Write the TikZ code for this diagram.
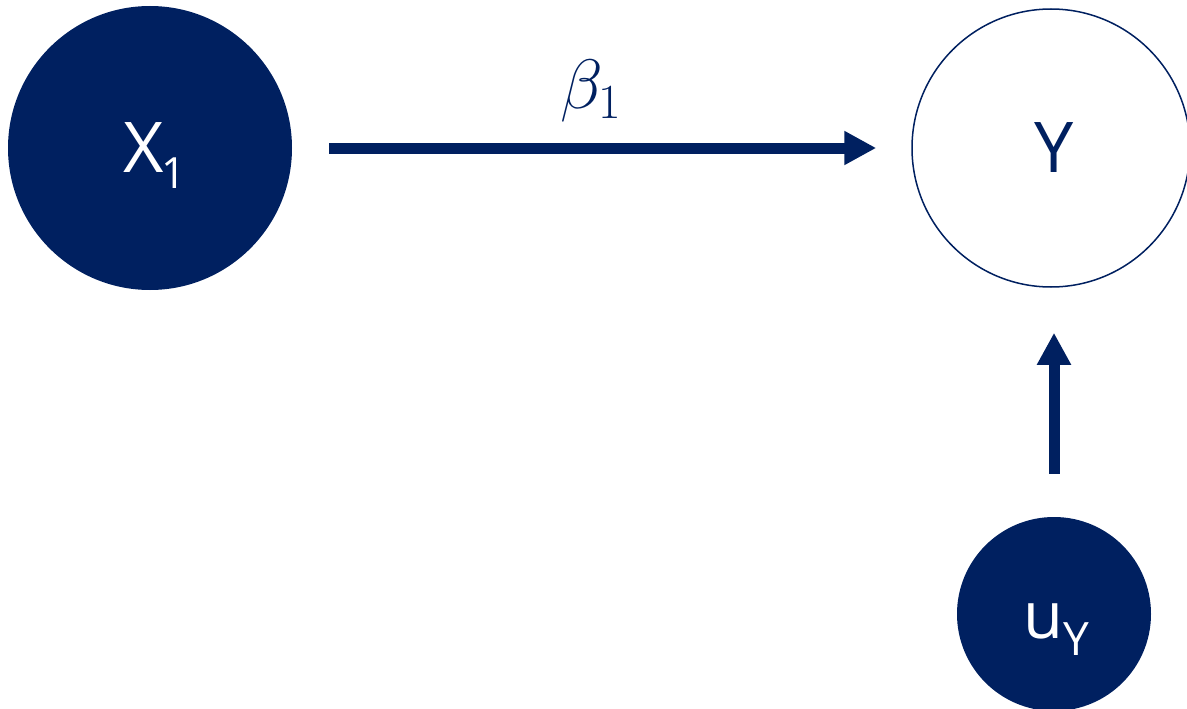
\RequirePackage{fix-cm}
\documentclass[tikz,border=0pt]{standalone}
\usepackage{fontspec}
\setmainfont{Open Sans}
\usetikzlibrary{arrows.meta}
\definecolor{navy}{RGB}{0,32,96}
\tikzset{
  filled/.style={circle, fill=navy, draw=none, text=white, inner sep=0pt},
  hollow/.style={circle, draw=navy, line width=1.5pt, fill=white, text=navy, inner sep=0pt},
  arr/.style={draw=navy, line width=11pt, -{Triangle[length=32pt,width=32pt]}},
}
\begin{document}
\begin{tikzpicture}[x=1pt,y=-1pt]
\useasboundingbox (0,0) rectangle (1187,709);
% variables
\node[filled, minimum size=284pt] (x1) at (150,148) {};
\node[hollow, minimum size=278pt] (y) at (1051,148) {};
\node[filled, minimum size=194pt] (uy) at (1054,614) {};
% labels inside the circles
\node[anchor=base, text=white, inner sep=0pt] (x1t) at (155,172)
  {\fontsize{70}{80}\selectfont X\kern-2pt\raisebox{-16pt}{\fontsize{43}{50}\selectfont 1}};
\node[anchor=base, text=navy, inner sep=0pt] (yt) at (1054,172)
  {\fontsize{70}{80}\selectfont Y};
\node[anchor=base, text=white, inner sep=0pt] (uyt) at (1056,638)
  {\fontsize{65}{75}\selectfont u\raisebox{-17pt}{\fontsize{46}{50}\selectfont Y}};
% paths
\draw[arr, shorten <=37pt, shorten >=35pt] (x1) -- (y);
\draw[arr, shorten <=43pt, shorten >=45pt] (uy.north) -- (uy.north |- y.south);
% coefficient
\node[anchor=base, text=navy, inner sep=0pt] (b1) at (591,108)
  {\fontsize{70}{80}\selectfont $\beta_1$};
\end{tikzpicture}
\end{document}
